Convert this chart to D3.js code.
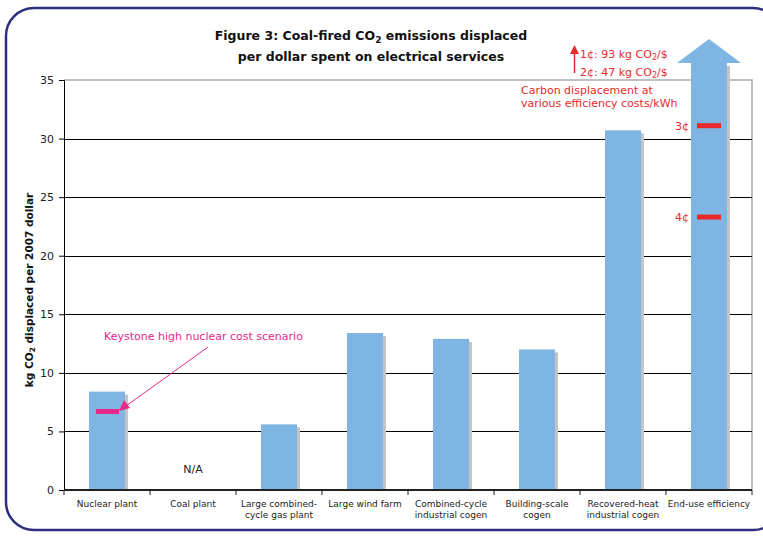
<!DOCTYPE html>
<html><head><meta charset="utf-8">
<script src="https://cdn.jsdelivr.net/npm/d3@7"></script>
<style>body{margin:0;background:#fff}svg{display:block}</style>
</head><body>
<svg id="c" width="763" height="537"></svg>
<script>
const categories = [["Nuclear plant"],["Coal plant"],["Large combined-","cycle gas plant"],["Large wind farm"],["Combined-cycle","industrial cogen"],["Building-scale","cogen"],["Recovered-heat","industrial cogen"],["End-use efficiency"]];
const values = [8.4, null, 5.6, 13.4, 12.9, 12.0, 30.7, null];
const yTicks = [0,5,10,15,20,25,30,35];
const nuclearHighCost = 6.7;
const efficiencyMarks = [{label:"3¢", v:31.1},{label:"4¢", v:23.3}];

const svg = d3.select("#c");
const font = "'DejaVu Sans', Verdana, sans-serif";
const L=64, R=752, T=80, B=490;
const x = d3.scaleBand().domain(d3.range(categories.length)).range([L,R]);
const y = d3.scaleLinear().domain([0,35]).range([B,T]);
const bw = 36;
const blue = "#7fb5e2", red="#e8292b", pink="#e8288c";

// frame
svg.append("rect").attr("x",6).attr("y",8).attr("width",775).attr("height",522).attr("rx",28)
  .attr("fill","none").attr("stroke","#2b2f7e").attr("stroke-width",2.5);

// plot border
svg.append("path").attr("d",`M${L},${T}H${R}V${B}`).attr("fill","none").attr("stroke","#aaa").attr("stroke-width",1.5);
// gridlines
svg.append("g").selectAll("line").data(yTicks.filter(d=>d>0&&d<35)).join("line")
  .attr("x1",L).attr("x2",R).attr("y1",d=>Math.round(y(d))+0.5).attr("y2",d=>Math.round(y(d))+0.5)
  .attr("stroke","#000").attr("stroke-width",1);

// y axis
const ya = svg.append("g").attr("transform",`translate(${L},0)`)
  .call(d3.axisLeft(y).tickValues(yTicks).tickSize(5).tickPadding(5));
ya.select(".domain").attr("stroke","#000");
ya.selectAll("text").attr("font-family",font).attr("font-size",11).attr("fill","#222");

// bars with shadows
const idx = d3.range(categories.length).filter(i=>values[i]!=null);
const cx = i => x(i)+x.bandwidth()/2;
svg.append("g").selectAll("rect").data(idx).join("rect")
  .attr("x",i=>cx(i)-bw/2+3).attr("y",i=>y(values[i])+3).attr("width",bw).attr("height",i=>B-y(values[i])-3)
  .attr("fill","#c4c4c4");
svg.append("g").selectAll("rect").data(idx).join("rect")
  .attr("x",i=>cx(i)-bw/2).attr("y",i=>y(values[i])).attr("width",bw).attr("height",i=>B-y(values[i]))
  .attr("fill",blue);

// end-use arrow
const ei = 7, ex = cx(ei);
const headBase = 63, tip = 39;
svg.append("rect").attr("x",ex-bw/2+3).attr("y",headBase+3).attr("width",bw).attr("height",B-headBase-3).attr("fill","#c4c4c4");
svg.append("path").attr("d",`M${ex-bw/2},${B}V${headBase}H${ex-32}L${ex},${tip}L${ex+32},${headBase}H${ex+bw/2}V${B}Z`).attr("fill",blue);

// markers
svg.append("g").selectAll("line").data(efficiencyMarks).join("line")
  .attr("x1",ex-12).attr("x2",ex+12).attr("y1",d=>y(d.v)).attr("y2",d=>y(d.v))
  .attr("stroke",red).attr("stroke-width",5);
svg.append("g").selectAll("text").data(efficiencyMarks).join("text")
  .attr("x",ex-20).attr("y",d=>y(d.v)+4).attr("text-anchor","end")
  .attr("font-family",font).attr("font-size",11).attr("fill",red).text(d=>d.label);
svg.append("line").attr("x1",cx(0)-11).attr("x2",cx(0)+12).attr("y1",y(nuclearHighCost)).attr("y2",y(nuclearHighCost))
  .attr("stroke",pink).attr("stroke-width",5);

// bottom axis
const xa = svg.append("g").attr("transform",`translate(0,${B})`);
xa.append("line").attr("x1",L).attr("x2",R).attr("stroke","#222").attr("stroke-width",2);
xa.selectAll("line.t").data(d3.range(categories.length+1)).join("line").attr("class","t")
  .attr("x1",i=>L+i*x.bandwidth()).attr("x2",i=>L+i*x.bandwidth()).attr("y1",0).attr("y2",5).attr("stroke","#222");
const lab = xa.selectAll("text.c").data(categories).join("text").attr("class","c")
  .attr("text-anchor","middle").attr("font-family",font).attr("font-size",9).attr("fill","#222")
  .attr("transform",(d,i)=>`translate(${cx(i)},17)`);
lab.selectAll("tspan").data(d=>d).join("tspan").attr("x",0).attr("dy",(d,j)=>j?11:0).text(d=>d);

// N/A
svg.append("text").attr("x",cx(1)).attr("y",473).attr("text-anchor","middle").attr("font-family",font).attr("font-size",11).attr("fill","#222").text("N/A");

// title
const tt = svg.append("text").attr("text-anchor","middle").attr("font-family",font).attr("font-weight","bold").attr("font-size",12.5).attr("fill","#111");
const t1 = tt.append("tspan").attr("x",371).attr("y",40);
t1.append("tspan").text("Figure 3: Coal-fired CO");
t1.append("tspan").attr("font-size",9).attr("dy",3).text("2");
t1.append("tspan").attr("dy",-3).text(" emissions displaced");
tt.append("tspan").attr("x",371).attr("y",61).text("per dollar spent on electrical services");

// y label
const yl = svg.append("text").attr("transform",`translate(33,${(T+B)/2+5}) rotate(-90)`).attr("text-anchor","middle")
  .attr("font-family",font).attr("font-weight","bold").attr("font-size",10.5).attr("fill","#111");
yl.append("tspan").text("kg CO");
yl.append("tspan").attr("font-size",7.5).attr("dy",2).text("2");
yl.append("tspan").attr("dy",-2).text(" displaced per 2007 dollar");

// red annotations
const ann = (yy, txt1) => {
  const t = svg.append("text").attr("x",580).attr("y",yy).attr("font-family",font).attr("font-size",11).attr("fill",red);
  t.append("tspan").text(txt1);
  t.append("tspan").attr("font-size",8).attr("dy",2).text("2");
  t.append("tspan").attr("dy",-2).text("/$");
};
ann(58, "1¢: 93 kg CO");
ann(76, "2¢: 47 kg CO");
svg.append("line").attr("x1",574.5).attr("x2",574.5).attr("y1",73).attr("y2",52).attr("stroke",red).attr("stroke-width",1.5);
svg.append("path").attr("d","M570,54L574.5,45L579,54Z").attr("fill",red);
svg.append("text").attr("x",521).attr("y",94).attr("font-family",font).attr("font-size",11).attr("fill",red).text("Carbon displacement at");
svg.append("text").attr("x",521).attr("y",107).attr("font-family",font).attr("font-size",11).attr("fill",red).text("various efficiency costs/kWh");

// pink annotation
svg.append("text").attr("x",104).attr("y",340).attr("font-family",font).attr("font-size",11).attr("fill",pink).text("Keystone high nuclear cost scenario");
svg.append("line").attr("x1",208).attr("y1",347).attr("x2",126).attr("y2",406).attr("stroke",pink).attr("stroke-width",1);
svg.append("path").attr("d","M119,411L124,400L130,408Z").attr("fill",pink);
</script>
</body></html>
